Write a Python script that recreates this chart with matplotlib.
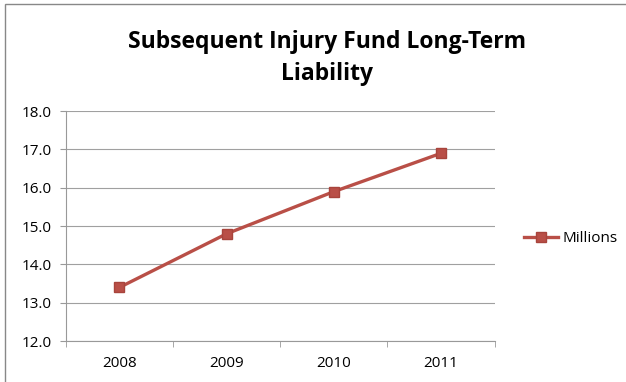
import matplotlib.pyplot as plt
from matplotlib.patches import Rectangle
import numpy as np

years = ['2008', '2009', '2010', '2011']
millions = [13.4, 14.8, 15.9, 16.9]
yticks = [12.0, 13.0, 14.0, 15.0, 16.0, 17.0, 18.0]

plt.rcParams['font.family'] = ['Open Sans', 'DejaVu Sans']

fig = plt.figure(figsize=(6.26, 3.82), dpi=100)
ax = fig.add_axes([0.105, 0.107, 0.685, 0.602])

x = np.arange(len(years))
ax.plot(x, millions, color='#B94F47', lw=2.4, marker='s', ms=6.5,
        markerfacecolor='#B94F47', markeredgecolor='#A8443C', label='Millions')

ax.set_xlim(-0.5, len(years) - 0.5)
ax.set_ylim(12, 18)
ax.set_yticks(yticks)
ax.set_yticklabels(['%.1f' % v for v in yticks])
ax.set_xticks(x)
ax.set_xticklabels(years)
ax.set_xticks(np.arange(-0.5, len(years), 1), minor=True)
ax.tick_params(axis='x', which='major', length=0, pad=11, labelsize=11)
ax.tick_params(axis='x', which='minor', length=4, color='#999999', direction='out')
ax.tick_params(axis='y', length=4, color='#999999', labelsize=11, pad=6)

ax.grid(axis='y', color='#A0A0A0', lw=0.8)
ax.set_axisbelow(True)
for s in ['top', 'right']:
    ax.spines[s].set_visible(False)
for s in ['left', 'bottom']:
    ax.spines[s].set_color('#999999')
    ax.spines[s].set_linewidth(0.8)

fig.text(0.522, 0.848, 'Subsequent Injury Fund Long-Term\nLiability', ha='center',
         va='center', fontsize=16.5, fontweight='bold', linespacing=1.45)

fig.legend(loc='center left', bbox_to_anchor=(0.815, 0.375), frameon=False,
           fontsize=11, handlelength=2.2, handletextpad=0.3)

fig.patches.append(Rectangle((0.008, -0.02), 1.1, 1.01, transform=fig.transFigure,
                             fill=False, edgecolor='#888888', lw=1))

fig.savefig('out.png', dpi=100)
